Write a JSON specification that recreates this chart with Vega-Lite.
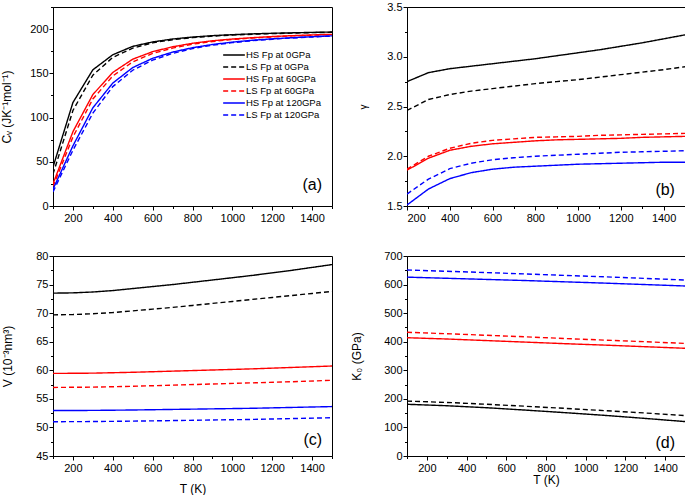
{
  "$schema": "https://vega.github.io/schema/vega-lite/v6.json",
  "background": "white",
  "padding": {"left": 0, "top": 0, "right": 1, "bottom": 0},
  "config": {
    "view": {"stroke": "black", "strokeWidth": 1},
    "font": "Liberation Sans",
    "axis": {
      "domainColor": "black", "tickColor": "black", "labelColor": "black", "titleColor": "black",
      "labelFont": "Liberation Sans", "titleFont": "Liberation Sans",
      "labelFontSize": 11, "titleFontSize": 12, "titleFontWeight": "normal",
      "grid": false, "labelOverlap": false, "labelBound": false, "domainWidth": 1, "tickWidth": 1, "tickCount": 100
    },
    "legend": {"labelFont": "Liberation Sans", "labelColor": "black"}
  },
  "resolve": {"scale": {"color": "independent", "strokeDash": "independent"}, "legend": {"color": "independent", "strokeDash": "independent"}},
  "columns": 2,
  "spacing": {"row": 25, "column": 17},
  "datasets": {
    "cv": [
      {"T":100,"v":44,"s":"HS Fp at 0GPa"},{"T":200,"v":117,"s":"HS Fp at 0GPa"},{"T":300,"v":154,"s":"HS Fp at 0GPa"},{"T":400,"v":171,"s":"HS Fp at 0GPa"},{"T":500,"v":180.5,"s":"HS Fp at 0GPa"},{"T":600,"v":185.5,"s":"HS Fp at 0GPa"},{"T":700,"v":188.8,"s":"HS Fp at 0GPa"},{"T":800,"v":191,"s":"HS Fp at 0GPa"},{"T":900,"v":192.6,"s":"HS Fp at 0GPa"},{"T":1000,"v":193.7,"s":"HS Fp at 0GPa"},{"T":1100,"v":194.6,"s":"HS Fp at 0GPa"},{"T":1200,"v":195.3,"s":"HS Fp at 0GPa"},{"T":1300,"v":195.8,"s":"HS Fp at 0GPa"},{"T":1400,"v":196.3,"s":"HS Fp at 0GPa"},{"T":1500,"v":196.7,"s":"HS Fp at 0GPa"},
      {"T":100,"v":36,"s":"LS Fp at 0GPa"},{"T":200,"v":108,"s":"LS Fp at 0GPa"},{"T":300,"v":148,"s":"LS Fp at 0GPa"},{"T":400,"v":168,"s":"LS Fp at 0GPa"},{"T":500,"v":178.5,"s":"LS Fp at 0GPa"},{"T":600,"v":184.5,"s":"LS Fp at 0GPa"},{"T":700,"v":188,"s":"LS Fp at 0GPa"},{"T":800,"v":190.4,"s":"LS Fp at 0GPa"},{"T":900,"v":192.1,"s":"LS Fp at 0GPa"},{"T":1000,"v":193.3,"s":"LS Fp at 0GPa"},{"T":1100,"v":194.2,"s":"LS Fp at 0GPa"},{"T":1200,"v":194.9,"s":"LS Fp at 0GPa"},{"T":1300,"v":195.5,"s":"LS Fp at 0GPa"},{"T":1400,"v":196,"s":"LS Fp at 0GPa"},{"T":1500,"v":196.4,"s":"LS Fp at 0GPa"},
      {"T":100,"v":25,"s":"HS Fp at 60GPa"},{"T":200,"v":84,"s":"HS Fp at 60GPa"},{"T":300,"v":126,"s":"HS Fp at 60GPa"},{"T":400,"v":151,"s":"HS Fp at 60GPa"},{"T":500,"v":166,"s":"HS Fp at 60GPa"},{"T":600,"v":174.5,"s":"HS Fp at 60GPa"},{"T":700,"v":180,"s":"HS Fp at 60GPa"},{"T":800,"v":184,"s":"HS Fp at 60GPa"},{"T":900,"v":186.8,"s":"HS Fp at 60GPa"},{"T":1000,"v":188.8,"s":"HS Fp at 60GPa"},{"T":1100,"v":190.3,"s":"HS Fp at 60GPa"},{"T":1200,"v":191.6,"s":"HS Fp at 60GPa"},{"T":1300,"v":192.6,"s":"HS Fp at 60GPa"},{"T":1400,"v":193.4,"s":"HS Fp at 60GPa"},{"T":1500,"v":194.1,"s":"HS Fp at 60GPa"},
      {"T":100,"v":22,"s":"LS Fp at 60GPa"},{"T":200,"v":78,"s":"LS Fp at 60GPa"},{"T":300,"v":121,"s":"LS Fp at 60GPa"},{"T":400,"v":147,"s":"LS Fp at 60GPa"},{"T":500,"v":163,"s":"LS Fp at 60GPa"},{"T":600,"v":172.5,"s":"LS Fp at 60GPa"},{"T":700,"v":178.5,"s":"LS Fp at 60GPa"},{"T":800,"v":183,"s":"LS Fp at 60GPa"},{"T":900,"v":186,"s":"LS Fp at 60GPa"},{"T":1000,"v":188.2,"s":"LS Fp at 60GPa"},{"T":1100,"v":189.9,"s":"LS Fp at 60GPa"},{"T":1200,"v":191.2,"s":"LS Fp at 60GPa"},{"T":1300,"v":192.3,"s":"LS Fp at 60GPa"},{"T":1400,"v":193.1,"s":"LS Fp at 60GPa"},{"T":1500,"v":193.8,"s":"LS Fp at 60GPa"},
      {"T":100,"v":19,"s":"HS Fp at 120GPa"},{"T":200,"v":68,"s":"HS Fp at 120GPa"},{"T":300,"v":111,"s":"HS Fp at 120GPa"},{"T":400,"v":139,"s":"HS Fp at 120GPa"},{"T":500,"v":156.5,"s":"HS Fp at 120GPa"},{"T":600,"v":167,"s":"HS Fp at 120GPa"},{"T":700,"v":174,"s":"HS Fp at 120GPa"},{"T":800,"v":179,"s":"HS Fp at 120GPa"},{"T":900,"v":182.6,"s":"HS Fp at 120GPa"},{"T":1000,"v":185.3,"s":"HS Fp at 120GPa"},{"T":1100,"v":187.4,"s":"HS Fp at 120GPa"},{"T":1200,"v":189,"s":"HS Fp at 120GPa"},{"T":1300,"v":190.3,"s":"HS Fp at 120GPa"},{"T":1400,"v":191.4,"s":"HS Fp at 120GPa"},{"T":1500,"v":192.4,"s":"HS Fp at 120GPa"},
      {"T":100,"v":16,"s":"LS Fp at 120GPa"},{"T":200,"v":63,"s":"LS Fp at 120GPa"},{"T":300,"v":105,"s":"LS Fp at 120GPa"},{"T":400,"v":135,"s":"LS Fp at 120GPa"},{"T":500,"v":153.5,"s":"LS Fp at 120GPa"},{"T":600,"v":165,"s":"LS Fp at 120GPa"},{"T":700,"v":172.5,"s":"LS Fp at 120GPa"},{"T":800,"v":178,"s":"LS Fp at 120GPa"},{"T":900,"v":181.8,"s":"LS Fp at 120GPa"},{"T":1000,"v":184.7,"s":"LS Fp at 120GPa"},{"T":1100,"v":186.9,"s":"LS Fp at 120GPa"},{"T":1200,"v":188.6,"s":"LS Fp at 120GPa"},{"T":1300,"v":190,"s":"LS Fp at 120GPa"},{"T":1400,"v":191.1,"s":"LS Fp at 120GPa"},{"T":1500,"v":192.1,"s":"LS Fp at 120GPa"}
    ],
    "gamma": [
      {"T":200,"v":2.75,"s":"HS Fp at 0GPa"},{"T":300,"v":2.84,"s":"HS Fp at 0GPa"},{"T":400,"v":2.88,"s":"HS Fp at 0GPa"},{"T":500,"v":2.905,"s":"HS Fp at 0GPa"},{"T":600,"v":2.93,"s":"HS Fp at 0GPa"},{"T":700,"v":2.955,"s":"HS Fp at 0GPa"},{"T":800,"v":2.98,"s":"HS Fp at 0GPa"},{"T":900,"v":3.01,"s":"HS Fp at 0GPa"},{"T":1000,"v":3.04,"s":"HS Fp at 0GPa"},{"T":1100,"v":3.07,"s":"HS Fp at 0GPa"},{"T":1200,"v":3.105,"s":"HS Fp at 0GPa"},{"T":1300,"v":3.14,"s":"HS Fp at 0GPa"},{"T":1400,"v":3.18,"s":"HS Fp at 0GPa"},{"T":1500,"v":3.22,"s":"HS Fp at 0GPa"},
      {"T":200,"v":2.46,"s":"LS Fp at 0GPa"},{"T":300,"v":2.57,"s":"LS Fp at 0GPa"},{"T":400,"v":2.62,"s":"LS Fp at 0GPa"},{"T":500,"v":2.655,"s":"LS Fp at 0GPa"},{"T":600,"v":2.68,"s":"LS Fp at 0GPa"},{"T":700,"v":2.705,"s":"LS Fp at 0GPa"},{"T":800,"v":2.73,"s":"LS Fp at 0GPa"},{"T":900,"v":2.75,"s":"LS Fp at 0GPa"},{"T":1000,"v":2.77,"s":"LS Fp at 0GPa"},{"T":1100,"v":2.795,"s":"LS Fp at 0GPa"},{"T":1200,"v":2.82,"s":"LS Fp at 0GPa"},{"T":1300,"v":2.845,"s":"LS Fp at 0GPa"},{"T":1400,"v":2.87,"s":"LS Fp at 0GPa"},{"T":1500,"v":2.9,"s":"LS Fp at 0GPa"},
      {"T":200,"v":1.86,"s":"HS Fp at 60GPa"},{"T":300,"v":1.98,"s":"HS Fp at 60GPa"},{"T":400,"v":2.06,"s":"HS Fp at 60GPa"},{"T":500,"v":2.1,"s":"HS Fp at 60GPa"},{"T":600,"v":2.125,"s":"HS Fp at 60GPa"},{"T":700,"v":2.14,"s":"HS Fp at 60GPa"},{"T":800,"v":2.155,"s":"HS Fp at 60GPa"},{"T":900,"v":2.165,"s":"HS Fp at 60GPa"},{"T":1000,"v":2.17,"s":"HS Fp at 60GPa"},{"T":1100,"v":2.175,"s":"HS Fp at 60GPa"},{"T":1200,"v":2.18,"s":"HS Fp at 60GPa"},{"T":1300,"v":2.19,"s":"HS Fp at 60GPa"},{"T":1400,"v":2.195,"s":"HS Fp at 60GPa"},{"T":1500,"v":2.2,"s":"HS Fp at 60GPa"},
      {"T":200,"v":1.87,"s":"LS Fp at 60GPa"},{"T":300,"v":2.0,"s":"LS Fp at 60GPa"},{"T":400,"v":2.08,"s":"LS Fp at 60GPa"},{"T":500,"v":2.13,"s":"LS Fp at 60GPa"},{"T":600,"v":2.16,"s":"LS Fp at 60GPa"},{"T":700,"v":2.175,"s":"LS Fp at 60GPa"},{"T":800,"v":2.19,"s":"LS Fp at 60GPa"},{"T":900,"v":2.195,"s":"LS Fp at 60GPa"},{"T":1000,"v":2.2,"s":"LS Fp at 60GPa"},{"T":1100,"v":2.21,"s":"LS Fp at 60GPa"},{"T":1200,"v":2.215,"s":"LS Fp at 60GPa"},{"T":1300,"v":2.22,"s":"LS Fp at 60GPa"},{"T":1400,"v":2.225,"s":"LS Fp at 60GPa"},{"T":1500,"v":2.23,"s":"LS Fp at 60GPa"},
      {"T":200,"v":1.51,"s":"HS Fp at 120GPa"},{"T":300,"v":1.67,"s":"HS Fp at 120GPa"},{"T":400,"v":1.775,"s":"HS Fp at 120GPa"},{"T":500,"v":1.835,"s":"HS Fp at 120GPa"},{"T":600,"v":1.87,"s":"HS Fp at 120GPa"},{"T":700,"v":1.89,"s":"HS Fp at 120GPa"},{"T":800,"v":1.9,"s":"HS Fp at 120GPa"},{"T":900,"v":1.91,"s":"HS Fp at 120GPa"},{"T":1000,"v":1.92,"s":"HS Fp at 120GPa"},{"T":1100,"v":1.925,"s":"HS Fp at 120GPa"},{"T":1200,"v":1.93,"s":"HS Fp at 120GPa"},{"T":1300,"v":1.935,"s":"HS Fp at 120GPa"},{"T":1400,"v":1.94,"s":"HS Fp at 120GPa"},{"T":1500,"v":1.94,"s":"HS Fp at 120GPa"},
      {"T":200,"v":1.62,"s":"LS Fp at 120GPa"},{"T":300,"v":1.77,"s":"LS Fp at 120GPa"},{"T":400,"v":1.875,"s":"LS Fp at 120GPa"},{"T":500,"v":1.93,"s":"LS Fp at 120GPa"},{"T":600,"v":1.965,"s":"LS Fp at 120GPa"},{"T":700,"v":1.985,"s":"LS Fp at 120GPa"},{"T":800,"v":2.0,"s":"LS Fp at 120GPa"},{"T":900,"v":2.01,"s":"LS Fp at 120GPa"},{"T":1000,"v":2.02,"s":"LS Fp at 120GPa"},{"T":1100,"v":2.03,"s":"LS Fp at 120GPa"},{"T":1200,"v":2.04,"s":"LS Fp at 120GPa"},{"T":1300,"v":2.045,"s":"LS Fp at 120GPa"},{"T":1400,"v":2.05,"s":"LS Fp at 120GPa"},{"T":1500,"v":2.055,"s":"LS Fp at 120GPa"}
    ],
    "vol": [
      {"T":100,"v":73.5,"s":"HS Fp at 0GPa"},{"T":200,"v":73.55,"s":"HS Fp at 0GPa"},{"T":300,"v":73.7,"s":"HS Fp at 0GPa"},{"T":400,"v":73.95,"s":"HS Fp at 0GPa"},{"T":500,"v":74.3,"s":"HS Fp at 0GPa"},{"T":600,"v":74.65,"s":"HS Fp at 0GPa"},{"T":700,"v":75.0,"s":"HS Fp at 0GPa"},{"T":800,"v":75.4,"s":"HS Fp at 0GPa"},{"T":900,"v":75.8,"s":"HS Fp at 0GPa"},{"T":1000,"v":76.2,"s":"HS Fp at 0GPa"},{"T":1100,"v":76.6,"s":"HS Fp at 0GPa"},{"T":1200,"v":77.05,"s":"HS Fp at 0GPa"},{"T":1300,"v":77.5,"s":"HS Fp at 0GPa"},{"T":1400,"v":78.0,"s":"HS Fp at 0GPa"},{"T":1500,"v":78.5,"s":"HS Fp at 0GPa"},
      {"T":100,"v":69.7,"s":"LS Fp at 0GPa"},{"T":200,"v":69.75,"s":"LS Fp at 0GPa"},{"T":300,"v":69.9,"s":"LS Fp at 0GPa"},{"T":400,"v":70.1,"s":"LS Fp at 0GPa"},{"T":500,"v":70.4,"s":"LS Fp at 0GPa"},{"T":600,"v":70.7,"s":"LS Fp at 0GPa"},{"T":700,"v":71.0,"s":"LS Fp at 0GPa"},{"T":800,"v":71.35,"s":"LS Fp at 0GPa"},{"T":900,"v":71.7,"s":"LS Fp at 0GPa"},{"T":1000,"v":72.05,"s":"LS Fp at 0GPa"},{"T":1100,"v":72.4,"s":"LS Fp at 0GPa"},{"T":1200,"v":72.75,"s":"LS Fp at 0GPa"},{"T":1300,"v":73.1,"s":"LS Fp at 0GPa"},{"T":1400,"v":73.45,"s":"LS Fp at 0GPa"},{"T":1500,"v":73.8,"s":"LS Fp at 0GPa"},
      {"T":100,"v":59.45,"s":"HS Fp at 60GPa"},{"T":300,"v":59.5,"s":"HS Fp at 60GPa"},{"T":500,"v":59.65,"s":"HS Fp at 60GPa"},{"T":700,"v":59.85,"s":"HS Fp at 60GPa"},{"T":900,"v":60.05,"s":"HS Fp at 60GPa"},{"T":1100,"v":60.25,"s":"HS Fp at 60GPa"},{"T":1300,"v":60.5,"s":"HS Fp at 60GPa"},{"T":1500,"v":60.75,"s":"HS Fp at 60GPa"},
      {"T":100,"v":57.0,"s":"LS Fp at 60GPa"},{"T":300,"v":57.05,"s":"LS Fp at 60GPa"},{"T":500,"v":57.2,"s":"LS Fp at 60GPa"},{"T":700,"v":57.4,"s":"LS Fp at 60GPa"},{"T":900,"v":57.6,"s":"LS Fp at 60GPa"},{"T":1100,"v":57.8,"s":"LS Fp at 60GPa"},{"T":1300,"v":58.0,"s":"LS Fp at 60GPa"},{"T":1500,"v":58.25,"s":"LS Fp at 60GPa"},
      {"T":100,"v":52.95,"s":"HS Fp at 120GPa"},{"T":300,"v":52.98,"s":"HS Fp at 120GPa"},{"T":500,"v":53.05,"s":"HS Fp at 120GPa"},{"T":700,"v":53.15,"s":"HS Fp at 120GPa"},{"T":900,"v":53.25,"s":"HS Fp at 120GPa"},{"T":1100,"v":53.35,"s":"HS Fp at 120GPa"},{"T":1300,"v":53.5,"s":"HS Fp at 120GPa"},{"T":1500,"v":53.65,"s":"HS Fp at 120GPa"},
      {"T":100,"v":51.0,"s":"LS Fp at 120GPa"},{"T":300,"v":51.03,"s":"LS Fp at 120GPa"},{"T":500,"v":51.1,"s":"LS Fp at 120GPa"},{"T":700,"v":51.2,"s":"LS Fp at 120GPa"},{"T":900,"v":51.3,"s":"LS Fp at 120GPa"},{"T":1100,"v":51.4,"s":"LS Fp at 120GPa"},{"T":1300,"v":51.55,"s":"LS Fp at 120GPa"},{"T":1500,"v":51.7,"s":"LS Fp at 120GPa"}
    ],
    "k0": [
      {"T":100,"v":181,"s":"HS Fp at 0GPa"},{"T":300,"v":176,"s":"HS Fp at 0GPa"},{"T":500,"v":169,"s":"HS Fp at 0GPa"},{"T":700,"v":160.5,"s":"HS Fp at 0GPa"},{"T":900,"v":151.5,"s":"HS Fp at 0GPa"},{"T":1100,"v":142,"s":"HS Fp at 0GPa"},{"T":1300,"v":131.5,"s":"HS Fp at 0GPa"},{"T":1500,"v":120.5,"s":"HS Fp at 0GPa"},
      {"T":100,"v":192,"s":"LS Fp at 0GPa"},{"T":300,"v":187.5,"s":"LS Fp at 0GPa"},{"T":500,"v":181,"s":"LS Fp at 0GPa"},{"T":700,"v":174,"s":"LS Fp at 0GPa"},{"T":900,"v":166.5,"s":"LS Fp at 0GPa"},{"T":1100,"v":158.5,"s":"LS Fp at 0GPa"},{"T":1300,"v":150.5,"s":"LS Fp at 0GPa"},{"T":1500,"v":141.5,"s":"LS Fp at 0GPa"},
      {"T":100,"v":414,"s":"HS Fp at 60GPa"},{"T":300,"v":409.5,"s":"HS Fp at 60GPa"},{"T":500,"v":404,"s":"HS Fp at 60GPa"},{"T":700,"v":398.5,"s":"HS Fp at 60GPa"},{"T":900,"v":393,"s":"HS Fp at 60GPa"},{"T":1100,"v":388,"s":"HS Fp at 60GPa"},{"T":1300,"v":382.5,"s":"HS Fp at 60GPa"},{"T":1500,"v":377,"s":"HS Fp at 60GPa"},
      {"T":100,"v":433,"s":"LS Fp at 60GPa"},{"T":300,"v":428,"s":"LS Fp at 60GPa"},{"T":500,"v":422.5,"s":"LS Fp at 60GPa"},{"T":700,"v":417,"s":"LS Fp at 60GPa"},{"T":900,"v":411,"s":"LS Fp at 60GPa"},{"T":1100,"v":405.5,"s":"LS Fp at 60GPa"},{"T":1300,"v":400,"s":"LS Fp at 60GPa"},{"T":1500,"v":394,"s":"LS Fp at 60GPa"},
      {"T":100,"v":626,"s":"HS Fp at 120GPa"},{"T":300,"v":622,"s":"HS Fp at 120GPa"},{"T":500,"v":618,"s":"HS Fp at 120GPa"},{"T":700,"v":614,"s":"HS Fp at 120GPa"},{"T":900,"v":609.5,"s":"HS Fp at 120GPa"},{"T":1100,"v":605,"s":"HS Fp at 120GPa"},{"T":1300,"v":600,"s":"HS Fp at 120GPa"},{"T":1500,"v":595,"s":"HS Fp at 120GPa"},
      {"T":100,"v":651,"s":"LS Fp at 120GPa"},{"T":300,"v":646.5,"s":"LS Fp at 120GPa"},{"T":500,"v":642,"s":"LS Fp at 120GPa"},{"T":700,"v":637,"s":"LS Fp at 120GPa"},{"T":900,"v":632,"s":"LS Fp at 120GPa"},{"T":1100,"v":627,"s":"LS Fp at 120GPa"},{"T":1300,"v":621.5,"s":"LS Fp at 120GPa"},{"T":1500,"v":616,"s":"LS Fp at 120GPa"}
    ]
  },
  "concat": [
    {
      "width": 279, "height": 199,
      "layer": [
        {
          "data": {"name": "cv"},
          "mark": {"type": "line", "strokeWidth": 1.4, "clip": true},
          "encoding": {
            "x": {"field": "T", "type": "quantitative", "scale": {"domain": [100, 1500], "nice": false, "zero": false},
                  "axis": {"title": null, "values": [100,200,300,400,500,600,700,800,900,1000,1100,1200,1300,1400,1500], "tickCount": 100,
                           "labelExpr": "datum.value % 200 === 0 ? datum.label : ''", "labelOverlap": false, "labelFlush": false,
                           "tickSize": {"condition": {"test": "datum.value % 200 === 0", "value": 4}, "value": 2.5},
                           "labelPadding": 2, "format": "d"}},
            "y": {"field": "v", "type": "quantitative", "scale": {"domain": [0, 225], "nice": false},
                  "axis": {"title": "Cᵥ (JK⁻¹mol⁻¹)", "values": [0,25,50,75,100,125,150,175,200,225], "tickCount": 100,
                           "labelExpr": "datum.value % 50 === 0 ? datum.label : ''", "labelOverlap": false, "format": "d",
                           "tickSize": {"condition": {"test": "datum.value % 50 === 0", "value": 4}, "value": 2.5},
                           "labelPadding": 1, "titlePadding": 16}},
            "color": {"field": "s", "type": "nominal",
                      "scale": {"domain": ["HS Fp at 0GPa","LS Fp at 0GPa","HS Fp at 60GPa","LS Fp at 60GPa","HS Fp at 120GPa","LS Fp at 120GPa"],
                                "range": ["#000000","#000000","#ff0000","#ff0000","#0000ff","#0000ff"]},
                      "legend": {"orient": "none", "legendX": 169, "legendY": 42, "title": null, "labelFontSize": 9.5,
                                 "symbolSize": 470, "symbolStrokeWidth": 1.5, "labelOffset": 0, "padding": 0, "rowPadding": 0, "clipHeight": 12}},
            "strokeDash": {"field": "s", "type": "nominal",
                           "scale": {"domain": ["HS Fp at 0GPa","LS Fp at 0GPa","HS Fp at 60GPa","LS Fp at 60GPa","HS Fp at 120GPa","LS Fp at 120GPa"],
                                     "range": [[1,0],[5,3],[1,0],[5,3],[1,0],[5,3]]},
                           "legend": {"orient": "none", "legendX": 169, "legendY": 42, "title": null, "labelFontSize": 9.5,
                                 "symbolSize": 470, "symbolStrokeWidth": 1.5, "labelOffset": 0, "padding": 0, "rowPadding": 0, "clipHeight": 12}}
          }
        },
        {
          "data": {"values": [{"T": 1450, "v": 24, "label": "(a)"}]},
          "mark": {"type": "text", "align": "right", "baseline": "middle", "fontSize": 16, "font": "Liberation Sans", "color": "black"},
          "encoding": {"x": {"field": "T", "type": "quantitative"}, "y": {"field": "v", "type": "quantitative"}, "text": {"field": "label"}}
        }
      ]
    },
    {
      "width": 278, "height": 199,
      "layer": [
        {
          "data": {"name": "gamma"},
          "mark": {"type": "line", "strokeWidth": 1.4, "clip": true},
          "encoding": {
            "x": {"field": "T", "type": "quantitative", "scale": {"domain": [200, 1500], "nice": false, "zero": false},
                  "axis": {"title": null, "values": [200,300,400,500,600,700,800,900,1000,1100,1200,1300,1400,1500], "tickCount": 100,
                           "labelExpr": "datum.value % 200 === 0 ? datum.label : ''", "labelOverlap": false,
                           "tickSize": {"condition": {"test": "datum.value % 200 === 0", "value": 4}, "value": 2.5},
                           "labelPadding": 2, "format": "d"}},
            "y": {"field": "v", "type": "quantitative", "scale": {"domain": [1.5, 3.5], "nice": false, "zero": false},
                  "axis": {"title": "γ", "values": [1.5,1.75,2.0,2.25,2.5,2.75,3.0,3.25,3.5], "tickCount": 100,
                           "format": ".1f", "labelOverlap": false,
                           "labelExpr": "round(datum.value*100) % 50 === 0 ? datum.label : ''",
                           "tickSize": {"condition": {"test": "round(datum.value*100) % 50 === 0", "value": 4}, "value": 2.5},
                           "labelPadding": 1, "titlePadding": 18, "titleFontSize": 10}},
            "color": {"field": "s", "type": "nominal",
                      "scale": {"domain": ["HS Fp at 0GPa","LS Fp at 0GPa","HS Fp at 60GPa","LS Fp at 60GPa","HS Fp at 120GPa","LS Fp at 120GPa"],
                                "range": ["#000000","#000000","#ff0000","#ff0000","#0000ff","#0000ff"]}, "legend": null},
            "strokeDash": {"field": "s", "type": "nominal",
                           "scale": {"domain": ["HS Fp at 0GPa","LS Fp at 0GPa","HS Fp at 60GPa","LS Fp at 60GPa","HS Fp at 120GPa","LS Fp at 120GPa"],
                                     "range": [[1,0],[5,3],[1,0],[5,3],[1,0],[5,3]]}, "legend": null}
          }
        },
        {
          "data": {"values": [{"T": 1453, "v": 1.66, "label": "(b)"}]},
          "mark": {"type": "text", "align": "right", "baseline": "middle", "fontSize": 16, "font": "Liberation Sans", "color": "black"},
          "encoding": {"x": {"field": "T", "type": "quantitative"}, "y": {"field": "v", "type": "quantitative"}, "text": {"field": "label"}}
        }
      ]
    },
    {
      "width": 279, "height": 200,
      "layer": [
        {
          "data": {"name": "vol"},
          "mark": {"type": "line", "strokeWidth": 1.4, "clip": true},
          "encoding": {
            "x": {"field": "T", "type": "quantitative", "scale": {"domain": [100, 1500], "nice": false, "zero": false},
                  "axis": {"title": "T (K)", "values": [100,200,300,400,500,600,700,800,900,1000,1100,1200,1300,1400,1500], "tickCount": 100,
                           "labelExpr": "datum.value % 200 === 0 ? datum.label : ''", "labelOverlap": false, "labelFlush": false,
                           "tickSize": {"condition": {"test": "datum.value % 200 === 0", "value": 4}, "value": 2.5},
                           "labelPadding": 2, "titlePadding": 10, "format": "d"}},
            "y": {"field": "v", "type": "quantitative", "scale": {"domain": [45, 80], "nice": false, "zero": false},
                  "axis": {"title": "V (10⁻³nm³)", "values": [45,47.5,50,52.5,55,57.5,60,62.5,65,67.5,70,72.5,75,77.5,80], "tickCount": 100,
                           "labelExpr": "datum.value % 5 === 0 ? datum.label : ''", "labelOverlap": false, "format": ".0f",
                           "tickSize": {"condition": {"test": "datum.value % 5 === 0", "value": 4}, "value": 2.5},
                           "labelPadding": 1, "titlePadding": 21}},
            "color": {"field": "s", "type": "nominal",
                      "scale": {"domain": ["HS Fp at 0GPa","LS Fp at 0GPa","HS Fp at 60GPa","LS Fp at 60GPa","HS Fp at 120GPa","LS Fp at 120GPa"],
                                "range": ["#000000","#000000","#ff0000","#ff0000","#0000ff","#0000ff"]}, "legend": null},
            "strokeDash": {"field": "s", "type": "nominal",
                           "scale": {"domain": ["HS Fp at 0GPa","LS Fp at 0GPa","HS Fp at 60GPa","LS Fp at 60GPa","HS Fp at 120GPa","LS Fp at 120GPa"],
                                     "range": [[1,0],[5,3],[1,0],[5,3],[1,0],[5,3]]}, "legend": null}
          }
        },
        {
          "data": {"values": [{"T": 1450, "v": 47.8, "label": "(c)"}]},
          "mark": {"type": "text", "align": "right", "baseline": "middle", "fontSize": 16, "font": "Liberation Sans", "color": "black"},
          "encoding": {"x": {"field": "T", "type": "quantitative"}, "y": {"field": "v", "type": "quantitative"}, "text": {"field": "label"}}
        }
      ]
    },
    {
      "width": 278, "height": 200,
      "layer": [
        {
          "data": {"name": "k0"},
          "mark": {"type": "line", "strokeWidth": 1.4, "clip": true},
          "encoding": {
            "x": {"field": "T", "type": "quantitative", "scale": {"domain": [100, 1500], "nice": false, "zero": false},
                  "axis": {"title": "T (K)", "values": [100,200,300,400,500,600,700,800,900,1000,1100,1200,1300,1400,1500], "tickCount": 100,
                           "labelExpr": "datum.value % 200 === 0 ? datum.label : ''", "labelOverlap": false, "labelFlush": false,
                           "tickSize": {"condition": {"test": "datum.value % 200 === 0", "value": 4}, "value": 2.5},
                           "labelPadding": 2, "titlePadding": 1, "format": "d"}},
            "y": {"field": "v", "type": "quantitative", "scale": {"domain": [0, 700], "nice": false},
                  "axis": {"title": "K₀ (GPa)", "values": [0,50,100,150,200,250,300,350,400,450,500,550,600,650,700], "tickCount": 100,
                           "labelExpr": "datum.value % 100 === 0 ? datum.label : ''", "labelOverlap": false, "format": "d",
                           "tickSize": {"condition": {"test": "datum.value % 100 === 0", "value": 4}, "value": 2.5},
                           "labelPadding": 1, "titlePadding": 20}},
            "color": {"field": "s", "type": "nominal",
                      "scale": {"domain": ["HS Fp at 0GPa","LS Fp at 0GPa","HS Fp at 60GPa","LS Fp at 60GPa","HS Fp at 120GPa","LS Fp at 120GPa"],
                                "range": ["#000000","#000000","#ff0000","#ff0000","#0000ff","#0000ff"]}, "legend": null},
            "strokeDash": {"field": "s", "type": "nominal",
                           "scale": {"domain": ["HS Fp at 0GPa","LS Fp at 0GPa","HS Fp at 60GPa","LS Fp at 60GPa","HS Fp at 120GPa","LS Fp at 120GPa"],
                                     "range": [[1,0],[5,3],[1,0],[5,3],[1,0],[5,3]]}, "legend": null}
          }
        },
        {
          "data": {"values": [{"T": 1450, "v": 46, "label": "(d)"}]},
          "mark": {"type": "text", "align": "right", "baseline": "middle", "fontSize": 16, "font": "Liberation Sans", "color": "black"},
          "encoding": {"x": {"field": "T", "type": "quantitative"}, "y": {"field": "v", "type": "quantitative"}, "text": {"field": "label"}}
        }
      ]
    }
  ]
}
